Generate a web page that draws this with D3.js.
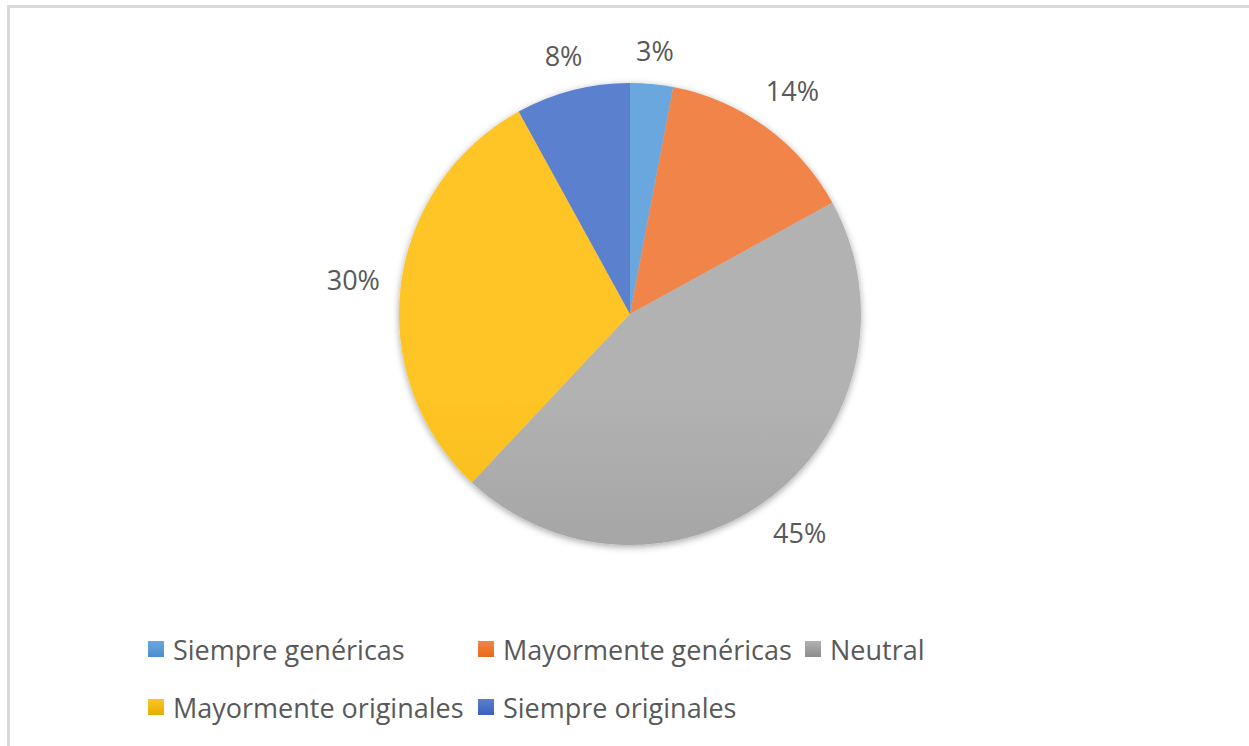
<!DOCTYPE html>
<html>
<head>
<meta charset="utf-8">
<script src="https://cdn.jsdelivr.net/npm/d3@7"></script>
<style>
  html, body { margin: 0; padding: 0; background: #fff; }
  svg { display: block; }
  text { font-family: "Open Sans", Lato, sans-serif; fill: #595959; }
</style>
</head>
<body>
<svg id="chart" width="1249" height="746"></svg>
<script>
// Answer categories and their shares (%)
const categories = [
  "Siempre genéricas",
  "Mayormente genéricas",
  "Neutral",
  "Mayormente originales",
  "Siempre originales"
];
const values = [3, 14, 45, 30, 8];

// Slice fills: [top tone, bottom tone] of each vertical gradient
const palette = [
  ["#6aa7de", "#4a8ed0"],
  ["#f1844a", "#e96a18"],
  ["#b2b2b2", "#8c8c8c"],
  ["#ffc425", "#e2af00"],
  ["#5a80ce", "#3861be"]
];

const W = 1249, H = 746;
const cx = 630, cy = 314, R = 231;

const svg = d3.select("#chart");

// Chart area frame
svg.append("rect")
  .attr("x", 8.5).attr("y", 6.5)
  .attr("width", W + 20).attr("height", H + 20)
  .attr("fill", "#fff")
  .attr("stroke", "#d9d9d9")
  .attr("stroke-width", 3);

const defs = svg.append("defs");

const shadow = defs.append("filter")
  .attr("id", "pieShadow")
  .attr("x", "-20%").attr("y", "-20%")
  .attr("width", "140%").attr("height", "140%");
shadow.append("feDropShadow")
  .attr("dx", 0).attr("dy", 2)
  .attr("stdDeviation", 3.5)
  .attr("flood-color", "#000")
  .attr("flood-opacity", 0.35);

palette.forEach((c, i) => {
  const g = defs.append("linearGradient")
    .attr("id", "grad" + i)
    .attr("gradientUnits", "userSpaceOnUse")
    .attr("x1", 0).attr("x2", 0)
    .attr("y1", cy - R).attr("y2", cy + R);
  g.append("stop").attr("offset", "0%").attr("stop-color", c[0]);
  g.append("stop").attr("offset", "100%").attr("stop-color", c[1]);

  const lg = defs.append("linearGradient")
    .attr("id", "lgrad" + i)
    .attr("x1", 0).attr("x2", 0).attr("y1", 0).attr("y2", 1);
  lg.append("stop").attr("offset", "0%").attr("stop-color", c[0]);
  lg.append("stop").attr("offset", "100%").attr("stop-color", c[1]);
});

const pie = d3.pie().sort(null).value(d => d)
  .startAngle(0).endAngle(2 * Math.PI);
const arcs = pie(values);
const arc = d3.arc().innerRadius(0).outerRadius(R);

const pieG = svg.append("g")
  .attr("transform", `translate(${cx},${cy})`);

pieG.append("g")
  .attr("filter", "url(#pieShadow)")
  .selectAll("path")
  .data(arcs)
  .join("path")
  .attr("d", arc)
  .attr("fill", (d, i) => `url(#grad${i})`);

// Outside-end percentage labels
const fmt = v => v + "%";
const labelPad = 20;
pieG.selectAll("text.pct")
  .data(arcs)
  .join("text")
  .attr("class", "pct")
  .attr("font-size", 27)
  .attr("text-anchor", "middle")
  .attr("dominant-baseline", "central")
  .text(d => fmt(d.data))
  .each(function (d) {
    const bb = this.getBBox();
    const a = (d.startAngle + d.endAngle) / 2;
    const s = Math.sin(a), c = -Math.cos(a);
    const hw = bb.width / 2, hh = 12;
    const dist = R + labelPad + hw * Math.abs(s) + hh * Math.abs(c);
    d3.select(this)
      .attr("x", dist * s)
      .attr("y", dist * c);
  });

// Legend
const colX = d3.scaleOrdinal().domain([0, 1, 2]).range([148, 478, 805]);
const rowY = d3.scaleOrdinal().domain([0, 1]).range([649, 707]);
const legendPos = [[0, 0], [1, 0], [2, 0], [0, 1], [1, 1]];
const box = 16;

const leg = svg.append("g")
  .selectAll("g")
  .data(categories)
  .join("g")
  .attr("transform", (d, i) =>
    `translate(${colX(legendPos[i][0])},${rowY(legendPos[i][1])})`);

leg.append("rect")
  .attr("x", 0).attr("y", -box / 2)
  .attr("width", box).attr("height", box)
  .attr("fill", (d, i) => `url(#lgrad${i})`);

leg.append("text")
  .attr("x", 25)
  .attr("y", 0)
  .attr("font-size", 27)
  .attr("dominant-baseline", "central")
  .text(d => d);
</script>
</body>
</html>
